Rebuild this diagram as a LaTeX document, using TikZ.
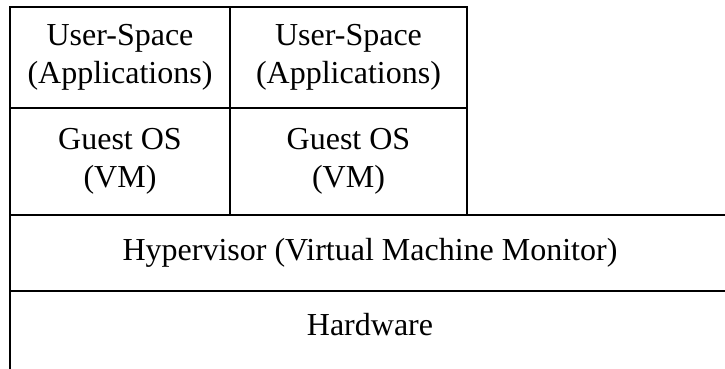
\documentclass[tikz,border=0pt]{standalone}
\usepackage{fontspec}
\setmainfont{Liberation Serif}
\begin{document}
\begin{tikzpicture}[x=1pt,y=-1pt,
  layer/.style={draw=black, line width=1.9pt, inner sep=0pt, outer sep=0pt,
    align=center, font=\fontsize{32}{38}\selectfont, anchor=north west}]
\useasboundingbox (0,0) rectangle (725,369);
\clip (0,0) rectangle (725,369);
% virtual machines, two columns
\node[layer, minimum width=220pt, minimum height=101pt] (us1) at (10,7) {User-Space\\(Applications)};
\node[layer, minimum width=237pt, minimum height=101pt] (us2) at (230,7) {User-Space\\(Applications)};
\node[layer, minimum width=220pt, minimum height=107pt] (go1) at (10,108) {Guest OS\\(VM)};
\node[layer, minimum width=237pt, minimum height=107pt] (go2) at (230,108) {Guest OS\\(VM)};
% shared layers below
\node[layer, minimum width=720pt, minimum height=76pt] (hyp) at (10,215) {Hypervisor (Virtual Machine Monitor)};
\node[layer, minimum width=720pt, minimum height=120pt] (hw) at (10,291) {};
\node[font=\fontsize{32}{38}\selectfont, inner sep=0pt] (hwl) at (370,325) {Hardware};
\end{tikzpicture}
\end{document}
